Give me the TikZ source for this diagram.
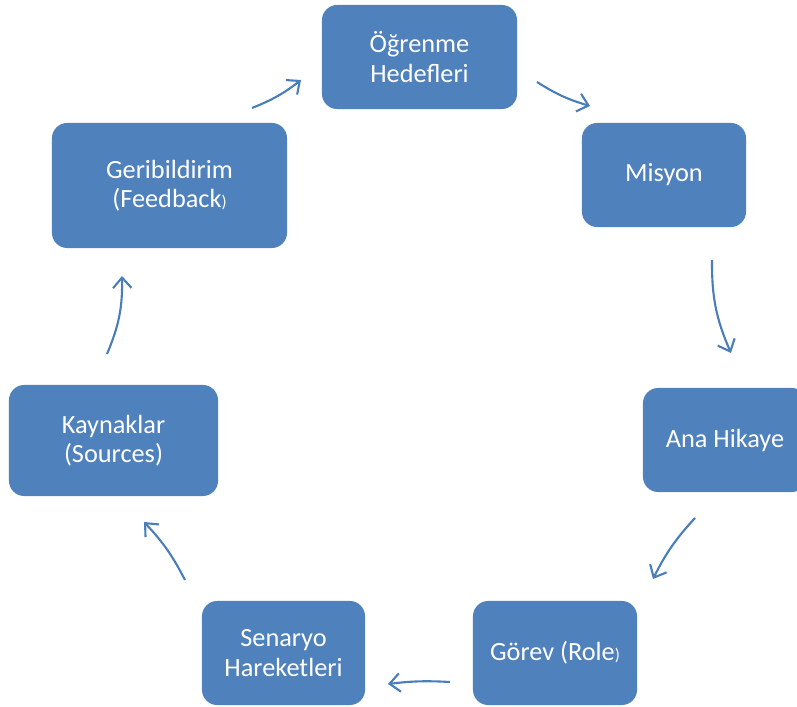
\documentclass[tikz,border=0pt]{standalone}
\usepackage{fontspec}
\setmainfont{Carlito}
\usepackage{tikz}
\usepackage{xcolor}
\usetikzlibrary{arrows.meta}

\definecolor{boxblue}{HTML}{4F81BD}
\definecolor{arrblue}{HTML}{4A7EBB}
\newcommand{\smallparen}{{\fontsize{12}{12}\selectfont )}}

\begin{document}
\begin{tikzpicture}[x=0.025cm, y=-0.025cm,
          stage/.style={fill=boxblue, rounded corners=0.38cm, text=white, align=center, inner sep=0pt,
                        font=\fontsize{18.7}{21}\selectfont, minimum width=4.1cm, minimum height=2.6cm},
          arr/.style={-{Straight Barb[length=2.6mm, width=4.6mm]}, draw=arrblue, line width=1.5pt}
      ]
        \useasboundingbox (0,0) rectangle (797,707);
        \node[stage, minimum width=4.875cm] (goals) at (419.5,57) {Öğrenme\\Hedefleri};
        \node[stage] (mission) at (664,175) {Misyon};
        \node[stage] (story) at (725,440) {Ana Hikaye};
        \node[stage] (role) at (555,653) {Görev (Role\smallparen};
        \node[stage, minimum width=4.075cm] (scenario) at (283.5,653) {Senaryo\\Hareketleri};
        \node[stage, minimum width=5.225cm, minimum height=2.775cm] (sources) at (113.5,440.5) {Kaynaklar\\(Sources)};
        \node[stage, minimum width=5.875cm, minimum height=3.125cm] (feedback) at (169.5,185.5) {Geribildirim\\(Feedback\smallparen};
        % free arrow ends
        \coordinate (a1s) at (252,108); \coordinate (a1e) at (301,80);
        \coordinate (a2s) at (537,82);  \coordinate (a2e) at (590,106);
        \coordinate (a3s) at (712,260); \coordinate (a3e) at (731,353);
        \coordinate (a4s) at (695,518); \coordinate (a4e) at (653,579);
        \coordinate (a5s) at (450,682); \coordinate (a5e) at (388,684);
        \coordinate (a6s) at (185,580); \coordinate (a6e) at (144,522);
        \coordinate (a7s) at (107,354); \coordinate (a7e) at (122,276);
        \draw[arr] (a1s) to[bend right=8] (a1e);
        \draw[arr] (a2s) to[bend right=8] (a2e);
        \draw[arr] (a3s) to[bend right=12] (a3e);
        \draw[arr] (a4s) to[bend right=8] (a4e);
        \draw[arr] (a5s) to[bend right=5] (a5e);
        \draw[arr] (a6s) to[bend right=8] (a6e);
        \draw[arr] (a7s) to[bend right=12] (a7e);
      \end{tikzpicture}
\end{document}
